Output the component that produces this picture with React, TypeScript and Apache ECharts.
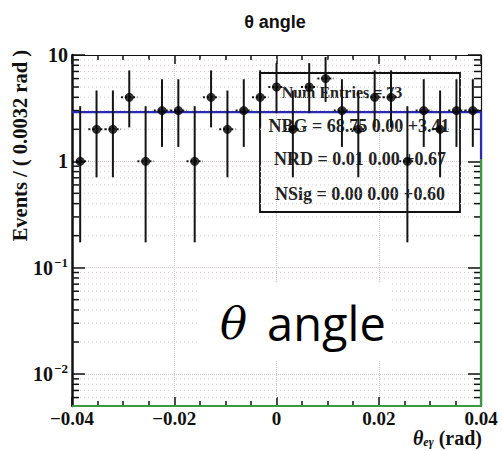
import { useEffect, useRef } from 'react';
import * as echarts from 'echarts';

// Bin centres of the theta histogram (bin width 0.0032 rad)
const thetaBins = [
  -0.0384, -0.0352, -0.032, -0.0288, -0.0256, -0.0224, -0.0192, -0.016, -0.0128,
  -0.0096, -0.0064, -0.0032, 0, 0.0032, 0.0064, 0.0096, 0.0128, 0.016, 0.0192,
  0.0224, 0.0256, 0.0288, 0.032, 0.0352, 0.0384,
];
// Events per bin
const eventCounts = [1, 2, 2, 4, 1, 3, 3, 1, 4, 2, 3, 4, 5, 2, 5, 6, 3, 2, 4, 4, 1, 3, 2, 3, 3];
// 68% Poisson interval bounds, indexed by event count
const poissonLow = [0, 0.173, 0.708, 1.367, 2.086, 2.84, 3.62];
const poissonHigh = [1.841, 3.3, 4.638, 5.918, 7.163, 8.382, 9.584];
const binHalfWidth = 0.0016;

// Fitted PDF curves (total and signal component)
const fitTotalCurve = [[-0.04, 2.9], [0.04, 2.9], [0.04, 0.005]];
const fitSignalCurve = [[-0.04, 0.005], [0.04, 0.005], [0.04, 1.05]];

const xRange = [-0.04, 0.04];
const yRange = [0.005, 10];

const statLines = [
  'Num Entries = 73',
  'NBG = 68.75 0.00 +3.41',
  'NRD = 0.01 0.00 +0.67',
  'NSig = 0.00 0.00 +0.60',
];

const SERIF = '"Liberation Serif", "Times New Roman", serif';
const SANS = '"Liberation Sans", Arial, sans-serif';

// log-axis minor positions 2..9 within each decade
const yMinorTicks: number[] = [];
for (const d of [0.001, 0.01, 0.1, 1]) {
  for (let k = 2; k <= 9; k++) {
    const v = +(d * k).toPrecision(3);
    if (v > yRange[0] && v < yRange[1]) yMinorTicks.push(v);
  }
}

const logLabel = (v: number) => {
  const l = Math.log10(v);
  const e = Math.round(l);
  if (Math.abs(l - e) > 1e-6) return '';
  if (e === 1) return '{b|10}';
  if (e === 0) return '{b|1}';
  return `{b|10}{s|\u2212${-e}}`;
};

const xLabel = (v: number) => {
  if (Math.abs(v) < 1e-9) return '0';
  return (v < 0 ? '\u2212' : '') + Math.abs(v).toFixed(2);
};

export default function App() {
  const ref = useRef<HTMLDivElement>(null);

  useEffect(() => {
    if (!ref.current) return;
    const chart = echarts.init(ref.current, null, { renderer: 'svg' });

    const errData = thetaBins.map((x, i) => [x, eventCounts[i], poissonLow[eventCounts[i]], poissonHigh[eventCounts[i]]]);
    const points = thetaBins.map((x, i) => [x, eventCounts[i]]);

    const axisFont = { fontFamily: SERIF, fontWeight: 'bold' as const, fontSize: 19, color: '#111' };

    chart.setOption({
      animation: false,
      backgroundColor: '#ffffff',
      grid: { left: 72, right: 21, top: 55, bottom: 45, containLabel: false },
      xAxis: [
        {
          type: 'value',
          min: xRange[0],
          max: xRange[1],
          interval: 0.02,
          position: 'bottom',
          axisLine: { show: true, onZero: false, lineStyle: { color: '#111', width: 1.5 } },
          axisTick: { show: true, inside: true, length: 9, lineStyle: { color: '#111', width: 1.5 } },
          minorTick: { show: true, splitNumber: 4, length: 5, lineStyle: { color: '#111', width: 1.5 } },
          axisLabel: { ...axisFont, margin: 3, formatter: xLabel },
          splitLine: { show: true, lineStyle: { color: '#c8c8c8', type: 'dotted', width: 1 } },
        },
        {
          type: 'value',
          min: xRange[0],
          max: xRange[1],
          interval: 0.02,
          position: 'top',
          axisLine: { show: true, onZero: false, lineStyle: { color: '#111', width: 1.2 } },
          axisTick: { show: true, inside: true, length: 9, lineStyle: { color: '#111', width: 1.5 } },
          minorTick: { show: true, splitNumber: 4, length: 5, lineStyle: { color: '#111', width: 1.5 } },
          axisLabel: { show: false },
          splitLine: { show: false },
        },
      ],
      yAxis: [
        {
          type: 'log',
          logBase: 10,
          min: yRange[0],
          max: yRange[1],
          position: 'left',
          axisLine: { show: true, onZero: false, lineStyle: { color: '#111', width: 2.5 } },
          axisTick: { show: true, inside: true, length: 13, lineStyle: { color: '#111', width: 1.5 } },
          axisLabel: {
            margin: 4,
            formatter: logLabel,
            rich: {
              b: { ...axisFont, fontSize: 20 },
              s: { fontFamily: SERIF, fontWeight: 'bold', fontSize: 13, color: '#111', verticalAlign: 'top', padding: [0, 0, 10, 1] },
            },
          },
          splitLine: { show: true, lineStyle: { color: '#d4c8d0', type: 'dotted', width: 1 } },
        },
        {
          type: 'log',
          logBase: 10,
          min: yRange[0],
          max: yRange[1],
          position: 'right',
          axisLine: { show: true, onZero: false, lineStyle: { color: '#111', width: 1.2 } },
          axisTick: { show: true, inside: true, length: 13, lineStyle: { color: '#111', width: 1.5 } },
          axisLabel: { show: false },
          splitLine: { show: false },
        },
      ],
      series: [
        {
          // minor grid lines and minor ticks of the log axis
          type: 'custom',
          silent: true,
          z: 1,
          xAxisIndex: 0,
          yAxisIndex: 0,
          data: yMinorTicks.map((v) => [xRange[0], v]),
          encode: { x: 0, y: 1 },
          renderItem: (_p: any, api: any) => {
            const v = api.value(1);
            const a = api.coord([xRange[0], v]);
            const b = api.coord([xRange[1], v]);
            return {
              type: 'group',
              children: [
                { type: 'line', shape: { x1: a[0], y1: a[1], x2: b[0], y2: b[1] }, style: { stroke: '#d4c8d0', lineWidth: 1, lineDash: [1, 3] } },
                { type: 'line', shape: { x1: a[0], y1: a[1], x2: a[0] + 7, y2: a[1] }, style: { stroke: '#111', lineWidth: 1.5 } },
                { type: 'line', shape: { x1: b[0] - 7, y1: b[1], x2: b[0], y2: b[1] }, style: { stroke: '#111', lineWidth: 1.5 } },
              ],
            };
          },
        },
        {
          type: 'line',
          data: fitTotalCurve,
          showSymbol: false,
          clip: false,
          z: 3,
          lineStyle: { color: '#2a2ab4', width: 2.2 },
          silent: true,
        },
        {
          type: 'line',
          data: fitSignalCurve,
          showSymbol: false,
          clip: false,
          z: 4,
          lineStyle: { color: '#3c9a3c', width: 2 },
          silent: true,
        },
        {
          // Poisson error bars and bin-width bars
          type: 'custom',
          z: 5,
          data: errData,
          encode: { x: 0, y: 1 },
          renderItem: (_p: any, api: any) => {
            const x = api.value(0);
            const y = api.value(1);
            const top = api.coord([x, api.value(3)]);
            const bot = api.coord([x, api.value(2)]);
            const l = api.coord([x - binHalfWidth, y]);
            const r = api.coord([x + binHalfWidth, y]);
            return {
              type: 'group',
              children: [
                { type: 'line', shape: { x1: top[0], y1: top[1], x2: bot[0], y2: bot[1] }, style: { stroke: '#151515', lineWidth: 2 } },
                { type: 'line', shape: { x1: l[0], y1: l[1], x2: r[0], y2: r[1] }, style: { stroke: '#151515', lineWidth: 2, lineDash: [2, 2] } },
              ],
            };
          },
        },
        {
          type: 'scatter',
          data: points,
          z: 6,
          symbol: 'circle',
          symbolSize: 9,
          itemStyle: { color: '#000' },
        },
      ],
      graphic: [
        {
          type: 'text',
          z: 10,
          style: { x: 275, y: 22, text: '\u03b8 angle', fontFamily: SANS, fontWeight: 'bold', fontSize: 18, fill: '#111', align: 'center', verticalAlign: 'middle' },
        },
        {
          type: 'text',
          z: 10,
          rotation: Math.PI / 2,
          x: 20,
          y: 50,
          style: { x: 0, y: 0, text: 'Events / ( 0.0032 rad )', fontFamily: SERIF, fontWeight: 'bold', fontSize: 20.5, fill: '#111', align: 'right', verticalAlign: 'middle' },
        },
        {
          type: 'text',
          z: 10,
          style: {
            x: 482,
            y: 438,
            text: '{t|\u03b8}{sub|e\u03b3}{r| (rad)}',
            align: 'right',
            verticalAlign: 'middle',
            rich: {
              t: { fontFamily: SERIF, fontStyle: 'italic', fontWeight: 'bold', fontSize: 20, fill: '#111' },
              sub: { fontFamily: SERIF, fontStyle: 'italic', fontWeight: 'bold', fontSize: 12, fill: '#111', verticalAlign: 'bottom', padding: [7, 0, 0, 0] },
              r: { fontFamily: SERIF, fontWeight: 'bold', fontSize: 20, fill: '#111' },
            },
          },
        },
        {
          type: 'rect',
          z: 1,
          shape: { x: 260, y: 73, width: 200, height: 139 },
          style: { fill: 'rgba(255,255,255,0)', stroke: '#111', lineWidth: 1.8 },
        },
        {
          type: 'text',
          z: 1,
          style: { x: 342, y: 92, text: statLines[0], fontFamily: SERIF, fontWeight: 'bold', fontSize: 16, fill: '#222', align: 'center', verticalAlign: 'middle' },
        },
        {
          type: 'text',
          z: 1,
          style: { x: 359, y: 126, text: statLines[1], fontFamily: SERIF, fontWeight: 'bold', fontSize: 18, fill: '#222', align: 'center', verticalAlign: 'middle' },
        },
        {
          type: 'text',
          z: 1,
          style: { x: 360, y: 159, text: statLines[2], fontFamily: SERIF, fontWeight: 'bold', fontSize: 18, fill: '#222', align: 'center', verticalAlign: 'middle' },
        },
        {
          type: 'text',
          z: 1,
          style: { x: 360, y: 194, text: statLines[3], fontFamily: SERIF, fontWeight: 'bold', fontSize: 18, fill: '#222', align: 'center', verticalAlign: 'middle' },
        },
        {
          type: 'group',
          z: 50,
          children: [
            { type: 'rect', z: 50, shape: { x: 200, y: 283, width: 191, height: 78 }, style: { fill: '#ffffff' } },
            {
              type: 'text',
              z: 51,
              style: {
                x: 220,
                y: 323,
                text: '{th|\u03b8}{an|angle}',
                verticalAlign: 'middle',
                rich: {
                  th: { fontFamily: '"DejaVu Serif", serif', fontStyle: 'italic', fontSize: 45, fill: '#000', padding: [0, 20, 0, 0] },
                  an: { fontFamily: '"Open Sans", sans-serif', fontSize: 47, fill: '#000' },
                },
              },
            },
          ],
        },
      ],
    });

    return () => chart.dispose();
  }, []);

  return <div ref={ref} style={{ position: 'absolute', left: 0, top: 0, width: 502, height: 451 }} />;
}
